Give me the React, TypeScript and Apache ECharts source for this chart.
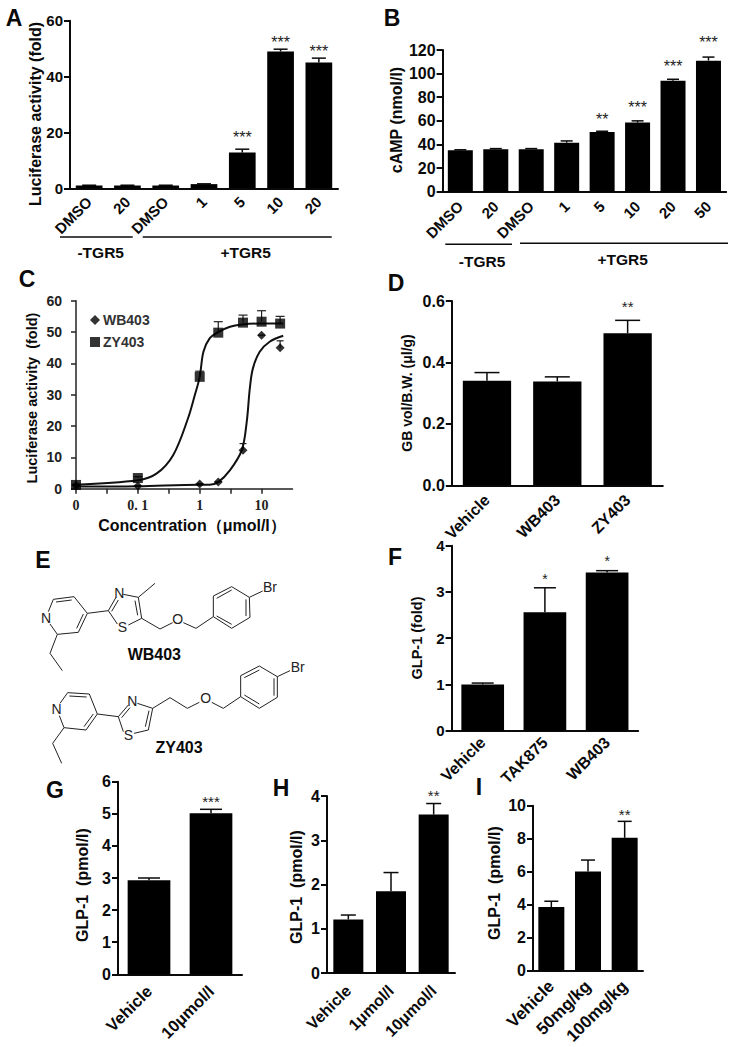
import React, { useEffect, useRef } from "react";
import * as echarts from "echarts";

const SANS = '"Liberation Sans", Arial, sans-serif';
const INK = "#0a0a0a";

// Panel A
const aCats = ["DMSO", "20", "DMSO", "1", "5", "10", "20"];
const aVals = [1, 1, 1, 1.5, 12.8, 49, 45];
const aTops = [1.1, 1.1, 1.1, 1.6, 14, 49.8, 46.6];
const aStars = [null, null, null, null, 18.8, 52.9, 49.6];
// Panel B
const bCats = ["DMSO", "20", "DMSO", "1", "5", "10", "20", "50"];
const bVals = [35, 36, 36, 41.5, 50.5, 58.5, 94, 111];
const bTops = [35.5, 36.5, 36.5, 43, 51.2, 60, 95.2, 114];
const bStars = [null, null, null, null, 63, 72.6, 108, 127.7];
const bStarMarks = ["", "", "", "", "**", "***", "***", "***"];
// Panel C (x = log position: 0 -> "0", 1 -> 0.1, 2 -> 1, 3 -> 10)
const cTickLabels: Record<string, string> = { "0": "0", "1": "0. 1", "2": "1", "3": "10" };
const cZyPoints = [[0, 1.2], [1, 3.4], [2, 35.7], [2.3, 49.8], [2.7, 53], [3, 53.3], [3.3, 52.7]];
const cZyTops = [1.4, 3.8, 37.5, 53.3, 55.4, 56.8, 55];
const cWbPoints = [[0, 1], [1, 0.9], [2, 1.5], [2.3, 2.1], [2.7, 12.3], [3, 49], [3.3, 45]];
const cWbTops = [1.1, 1, 1.6, 2.2, 14.4, 49, 47.2];
const cZyCurve = [[0, 1.3], [1, 2.7], [1.3, 4.8], [1.57, 10.7], [1.81, 22.4], [1.92, 29.8], [2, 35.7], [2.06, 43.7], [2.16, 48], [2.3, 50], [2.49, 51.7], [2.68, 52.4], [2.97, 52.7], [3.35, 52.7]];
const cWbCurve = [[0, 0.7], [1, 0.8], [2, 1.3], [2.16, 1.3], [2.3, 2.1], [2.49, 5.9], [2.68, 12.3], [2.76, 21.3], [2.81, 32], [2.86, 38.4], [2.97, 43.7], [3.13, 46.9], [3.35, 48.8]];
// Panel D
const dCats = ["Vehicle", "WB403", "ZY403"];
const dVals = [0.34, 0.338, 0.495];
const dTops = [0.367, 0.353, 0.537];
const dStars = [null, null, 0.59];
// Panel F
const fCats = ["Vehicle", "TAK875", "WB403"];
const fVals = [1, 2.56, 3.42];
const fTops = [1.03, 3.09, 3.46];
const fStars = [null, 3.33, 3.71];
// Panel G
const gCats = ["Vehicle", "10μmol/l"];
const gVals = [2.93, 5.02];
const gTops = [3, 5.14];
const gStars = [null, 5.43];
// Panel H
const hCats = ["Vehicle", "1μmol/l", "10μmol/l"];
const hVals = [1.21, 1.85, 3.58];
const hTops = [1.31, 2.27, 3.83];
const hStars = [null, null, 4.05];
// Panel I
const iCats = ["Vehicle", "50mg/kg", "100mg/kg"];
const iVals = [3.85, 6, 8.05];
const iTops = [4.2, 6.7, 9.05];
const iStars = [null, null, 9.56];

type Panel = {
  rect: [number, number, number, number];
  cats: string[]; vals: number[]; tops: number[]; stars: (number | null)[];
  marks: string | string[]; max: number; interval: number; barW: number; capW: number;
  yFont: number; xFont: number; dec?: number; labelMargin?: number; starFont?: number;
};

const panels: Panel[] = [
  { rect: [70, 20.7, 268, 167.6], cats: aCats, vals: aVals, tops: aTops, stars: aStars, marks: "***", max: 60, interval: 20, barW: 26.7, capW: 14, yFont: 15, xFont: 15, labelMargin: 11, starFont: 16 },
  { rect: [442.6, 50, 283.6, 141.7], cats: bCats, vals: bVals, tops: bTops, stars: bStars, marks: bStarMarks, max: 120, interval: 20, barW: 25, capW: 12, yFont: 16, xFont: 15, labelMargin: 12, starFont: 16 },
  { rect: [451.8, 301, 211, 184.3], cats: dCats, vals: dVals, tops: dTops, stars: dStars, marks: "**", max: 0.6, interval: 0.2, barW: 48.3, capW: 25, yFont: 16, xFont: 16, dec: 1, labelMargin: 12, starFont: 15 },
  { rect: [451.6, 545.7, 186.6, 185], cats: fCats, vals: fVals, tops: fTops, stars: fStars, marks: "*", max: 4, interval: 1, barW: 42.7, capW: 22, yFont: 15, xFont: 16, labelMargin: 9, starFont: 14 },
  { rect: [118, 781.7, 124, 192.6], cats: gCats, vals: gVals, tops: gTops, stars: gStars, marks: "***", max: 6, interval: 1, barW: 42.7, capW: 22, yFont: 16, xFont: 16.5, labelMargin: 14, starFont: 15 },
  { rect: [327, 796, 128, 177], cats: hCats, vals: hVals, tops: hTops, stars: hStars, marks: "**", max: 4, interval: 1, barW: 30, capW: 15, yFont: 16, xFont: 16, labelMargin: 15, starFont: 15 },
  { rect: [533, 805.7, 110, 166], cats: iCats, vals: iVals, tops: iTops, stars: iStars, marks: "**", max: 10, interval: 2, barW: 26, capW: 14, yFont: 16, xFont: 17, labelMargin: 13, starFont: 15 },
];

const gridOf = (r: number[]) => ({ left: r[0], top: r[1], width: r[2], height: r[3], containLabel: false });

function errorBars(gridIdx: number, data: number[][], capW: number, name: string, lw = 1.5, color = INK) {
  return {
    type: "custom", name, xAxisIndex: gridIdx, yAxisIndex: gridIdx, clip: false, silent: true, z: 1,
    encode: { x: 0, y: [1, 2] },
    data,
    renderItem: (_: any, api: any) => {
      const base = api.coord([api.value(0), api.value(1)]);
      const top = api.coord([api.value(0), api.value(2)]);
      const st = { stroke: color, lineWidth: lw };
      return {
        type: "group",
        children: [
          { type: "line", shape: { x1: base[0], y1: base[1], x2: top[0], y2: top[1] }, style: st },
          { type: "line", shape: { x1: top[0] - capW / 2, y1: top[1], x2: top[0] + capW / 2, y2: top[1] }, style: st },
        ],
      };
    },
  };
}

function starSeries(gridIdx: number, p: Panel) {
  const data = p.stars.map((v, i) => [i, v]).filter((d) => d[1] != null);
  return {
    type: "custom", name: "stars" + gridIdx, xAxisIndex: gridIdx, yAxisIndex: gridIdx, clip: false, silent: true, z: 5,
    encode: { x: 0, y: 1 },
    data,
    renderItem: (params: any, api: any) => {
      const i = api.value(0);
      const c = api.coord([i, api.value(1)]);
      const mark = Array.isArray(p.marks) ? p.marks[i] : p.marks;
      return { type: "text", x: c[0], y: c[1] + 2, style: { text: mark, fill: "#222", font: `${p.starFont ?? 14}px ${SANS}`, align: "center", verticalAlign: "middle" } };
    },
  };
}

const txt = (text: string, x: number, y: number, size: number, opt: any = {}) => ({
  type: "text", x, y, rotation: opt.rot ?? 0, silent: true,
  style: { text, fill: opt.fill ?? INK, font: `${opt.weight ?? "bold"} ${size}px ${opt.family ?? SANS}`, align: "center", verticalAlign: "middle" },
});
const vtxt = (text: string, x: number, y: number, size: number) => txt(text, x, y, size, { rot: Math.PI / 2 });
const rule = (x1: number, y1: number, x2: number, y2: number, w = 1.5, c = INK) => ({
  type: "line", silent: true, shape: { x1, y1, x2, y2 }, style: { stroke: c, lineWidth: w },
});

// Chemical structures: bonds in 3x crop coordinates of the drawing area
const wbBonds = [
  [145, 215, 160, 178], [160, 178, 222, 170], [168, 186, 215, 180], [222, 170, 262, 220], [262, 220, 235, 277], [250, 222, 230, 265], [235, 277, 172, 283], [172, 283, 150, 252],
  [172, 283, 150, 340], [150, 340, 187, 392], [262, 220, 325, 212],
  [325, 212, 348, 172], [335, 214, 355, 180], [370, 163, 415, 172], [415, 172, 425, 235], [405, 182, 413, 226], [425, 235, 385, 255], [352, 252, 325, 212],
  [415, 172, 465, 130], [425, 235, 480, 267], [480, 267, 518, 248], [550, 248, 588, 265], [588, 265, 640, 230],
  [640, 230, 640, 168], [640, 168, 695, 140], [695, 140, 748, 172], [748, 172, 750, 232], [750, 232, 695, 265], [695, 265, 640, 230],
  [650, 175, 695, 150], [738, 178, 738, 228], [650, 228, 695, 253], [748, 172, 788, 153],
];
const zyBonds = [
  [180, 490, 203, 458], [203, 458, 268, 462], [208, 468, 260, 471], [268, 462, 292, 522], [292, 522, 258, 570], [280, 522, 252, 560], [258, 570, 192, 563], [192, 563, 178, 527],
  [192, 563, 158, 610], [158, 610, 185, 670], [292, 522, 355, 530],
  [355, 530, 385, 495], [365, 533, 390, 503], [412, 490, 458, 505], [458, 505, 445, 570], [447, 512, 436, 560], [445, 570, 402, 580], [370, 575, 355, 530],
  [458, 505, 510, 473], [510, 473, 562, 505], [562, 505, 598, 487], [635, 487, 670, 505], [670, 505, 722, 470],
  [722, 470, 722, 407], [722, 407, 778, 378], [778, 378, 832, 410], [832, 410, 832, 472], [832, 472, 778, 505], [778, 505, 722, 470],
  [733, 413, 778, 390], [822, 415, 822, 467], [733, 465, 778, 492], [832, 410, 870, 392],
];
const atomLabels: [string, number, number][] = [
  ["N", 138, 235], ["N", 358, 160], ["S", 367, 262], ["O", 533, 237], ["Br", 810, 142],
  ["N", 170, 508], ["N", 397, 482], ["S", 385, 585], ["O", 617, 475], ["Br", 893, 382],
];

function buildOption() {
  const cRect = [76, 300.7, 216.5, 188];
  const grids = panels.map((p) => gridOf(p.rect));
  grids.push(gridOf(cRect) as any);
  const xAxes: any[] = panels.map((p, i) => ({
    type: "category", gridIndex: i, data: p.cats,
    axisLine: { lineStyle: { color: INK, width: 2 } },
    axisTick: { alignWithLabel: true, length: 6, lineStyle: { color: INK, width: 2 } },
    axisLabel: { rotate: 45, interval: 0, margin: p.labelMargin ?? 8, color: INK, fontWeight: "bold", fontFamily: SANS, fontSize: p.xFont },
  }));
  const yAxes: any[] = panels.map((p, i) => ({
    type: "value", gridIndex: i, min: 0, max: p.max, interval: p.interval,
    splitLine: { show: false },
    axisLine: { show: true, lineStyle: { color: INK, width: 2 } },
    axisTick: { show: true, length: 6, lineStyle: { color: INK, width: 2 } },
    axisLabel: { margin: 7, color: INK, fontWeight: "bold", fontFamily: SANS, fontSize: p.yFont,
      formatter: (v: number) => (p.dec ? v.toFixed(p.dec) : String(v)) },
  }));
  const cIdx = panels.length;
  xAxes.push({
    type: "value", gridIndex: cIdx, min: 0, max: 3.5, interval: 0.5, splitLine: { show: false },
    axisLine: { lineStyle: { color: "#222", width: 1.5 } },
    axisTick: { length: 5, lineStyle: { color: "#222", width: 1.5 } },
    axisLabel: { margin: 10, color: "#222", fontWeight: "bold", fontFamily: '"Liberation Serif", serif', fontSize: 14, showMaxLabel: false,
      formatter: (v: number) => cTickLabels[String(v)] ?? "" },
  });
  yAxes.push({
    type: "value", gridIndex: cIdx, min: 0, max: 60, interval: 10, splitLine: { show: false },
    axisLine: { show: true, lineStyle: { color: "#222", width: 1.5 } },
    axisTick: { show: true, length: 5, lineStyle: { color: "#222", width: 1.5 } },
    axisLabel: { margin: 14, color: "#222", fontWeight: "bold", fontFamily: SANS, fontSize: 14 },
  });

  const series: any[] = [];
  panels.forEach((p, i) => {
    series.push(errorBars(i, p.vals.map((v, k) => [k, v, p.tops[k]]), p.capW, "err" + i));
    series.push({ type: "bar", name: "bars" + i, xAxisIndex: i, yAxisIndex: i, data: p.vals, barWidth: p.barW, itemStyle: { color: "#000" }, z: 2 });
    series.push(starSeries(i, p));
  });
  const lineS = (name: string, data: number[][]) => ({
    type: "line", name, xAxisIndex: cIdx, yAxisIndex: cIdx, data, smooth: 0.35, showSymbol: false, symbol: "none",
    lineStyle: { color: "#111", width: 2 }, z: 2,
  });
  series.push(lineS("WB403 fit", cWbCurve));
  series.push(lineS("ZY403 fit", cZyCurve));
  series.push(errorBars(cIdx, cWbPoints.map((d, k) => [d[0], d[1], cWbTops[k]]), 7, "WB403 err", 1.2, "#222"));
  series.push(errorBars(cIdx, cZyPoints.map((d, k) => [d[0], d[1], cZyTops[k]]), 9, "ZY403 err", 1.2, "#222"));
  series.push({ type: "scatter", name: "WB403", xAxisIndex: cIdx, yAxisIndex: cIdx, data: cWbPoints, symbol: "diamond", symbolSize: 9, itemStyle: { color: "#000" }, z: 3, clip: false });
  series.push({ type: "scatter", name: "ZY403", xAxisIndex: cIdx, yAxisIndex: cIdx, data: cZyPoints, symbol: "rect", symbolSize: 10, itemStyle: { color: "#000" }, z: 3, clip: false });

  const graphics: any[] = [
    txt("A", 14, 18, 23), txt("B", 392, 18, 23), txt("C", 27, 279, 23), txt("D", 396, 283, 23),
    txt("E", 43, 560, 23), txt("F", 395, 557, 23), txt("G", 55, 790, 23), txt("H", 281, 788, 23), txt("I", 479, 787, 23),
    vtxt("Luciferase activity (fold)", 35, 114, 16),
    vtxt("cAMP (nmol/l)", 396, 120, 16),
    vtxt("Luciferase activity\u00a0\u00a0(fold)", 32, 398, 14.5),
    vtxt("GB vol/B.W. (μl/g)", 407, 393, 14),
    vtxt("GLP-1 (fold)", 417, 638, 14.5),
    vtxt("GLP-1\u00a0\u00a0(pmol/l)", 82, 885, 16),
    vtxt("GLP-1\u00a0\u00a0(pmol/l)", 296, 887, 16),
    vtxt("GLP-1\u00a0\u00a0(pmol/l)", 494, 883, 16),
    txt("Concentration（μmol/l）", 192, 525, 16),
    rule(60, 237, 132.7, 237), rule(142.7, 237, 331.7, 237),
    txt("-TGR5", 100.7, 252.7, 15.5), txt("+TGR5", 245.7, 252.7, 15.5),
    rule(445.3, 244.3, 512, 244.3), rule(520, 243.3, 728, 243.3),
    txt("-TGR5", 482, 261, 15.5), txt("+TGR5", 622.7, 259, 15.5),
    txt("WB403", 154.3, 654, 16), txt("ZY403", 179, 747.7, 16),
  ];
  [...wbBonds, ...zyBonds].forEach((b) => graphics.push(rule(b[0] / 3, 540 + b[1] / 3, b[2] / 3, 540 + b[3] / 3, 1, "#222")));
  atomLabels.forEach(([t, x, y]) => graphics.push(txt(t, x / 3, 540 + y / 3, 14, { weight: "normal", fill: "#222" })));

  return {
    animation: false,
    backgroundColor: "#fff",
    grid: grids,
    xAxis: xAxes,
    yAxis: yAxes,
    series,
    graphic: { elements: graphics },
    legend: {
      show: true, orient: "vertical", left: 85, top: 308, itemWidth: 10, itemHeight: 10, itemGap: 8,
      selectedMode: false, itemStyle: { borderWidth: 0 },
      textStyle: { color: "#333", fontWeight: "bold", fontFamily: SANS, fontSize: 14, padding: [0, 0, 0, -2] },
      data: [{ name: "WB403", icon: "diamond" }, { name: "ZY403", icon: "rect" }],
    },
  };
}

export default function App() {
  const ref = useRef<HTMLDivElement>(null);
  useEffect(() => {
    const chart = echarts.init(ref.current!, undefined, { renderer: "svg" });
    chart.setOption(buildOption() as any);
    return () => chart.dispose();
  }, []);
  return <div ref={ref} style={{ position: "absolute", left: 0, top: 0, width: 734, height: 1047 }} />;
}
